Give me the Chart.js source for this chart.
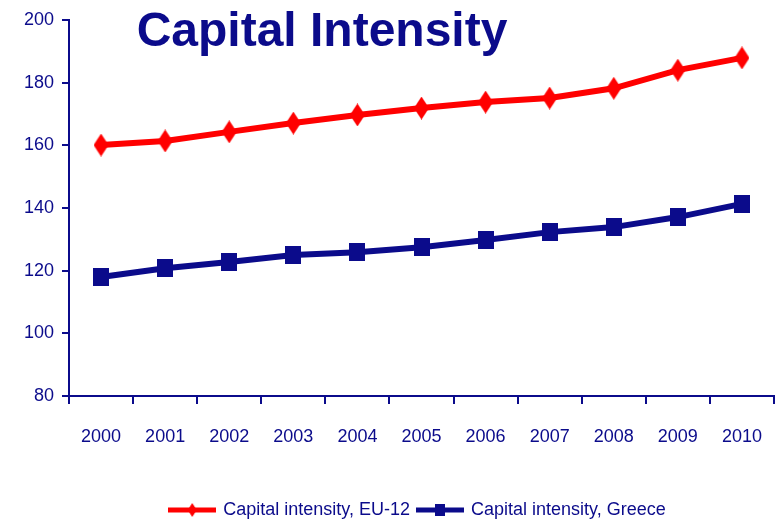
<!DOCTYPE html>
<html>
<head>
<meta charset="utf-8">
<script src="https://cdn.jsdelivr.net/npm/chart.js@4/dist/chart.umd.min.js"></script>
<style>
  html, body { margin: 0; padding: 0; background: #fff; }
  #wrap { width: 776px; height: 524px; position: relative; }
</style>
</head>
<body>
<div id="wrap"><canvas id="capChart" width="776" height="524"></canvas></div>
<script>
(function(){
  const years = ['2000','2001','2002','2003','2004','2005','2006','2007','2008','2009','2010'];
  const eu12 = [160.1, 161.4, 164.3, 167.1, 169.7, 171.9, 173.8, 175.1, 178.2, 184.0, 187.9];
  const greece = [118.0, 120.8, 122.8, 125.0, 125.9, 127.5, 129.8, 132.3, 133.9, 137.1, 141.3];
  const yTicks = [80, 100, 120, 140, 160, 180, 200];

  const NAVY = '#0b0b8b';
  const RED = '#ff0000';
  const FAMILY = '"Liberation Sans Narrow", "Arial Narrow", "Liberation Sans", Arial, sans-serif';
  const tickFont = { family: FAMILY, size: 18 };
  // big line height pushes the year labels down without widening the axis padding
  const xTickFont = { family: FAMILY, size: 18, lineHeight: 3.2 };

  // little canvases used as point styles (markers are taller than wide in the original)
  function diamond(w, h, lineW, lineLen){
    const c = document.createElement('canvas');
    const W = lineLen || w;
    c.width = W; c.height = h;
    const g = c.getContext('2d');
    g.fillStyle = RED;
    if (lineLen) g.fillRect(0, h/2 - lineW/2, W, lineW);
    const cx = W/2;
    g.beginPath();
    g.moveTo(cx, 0); g.lineTo(cx + w/2, h/2); g.lineTo(cx, h); g.lineTo(cx - w/2, h/2);
    g.closePath(); g.fill();
    return c;
  }
  function square(w, h, lineW, lineLen){
    const c = document.createElement('canvas');
    const W = lineLen || w;
    c.width = W; c.height = h;
    const g = c.getContext('2d');
    g.fillStyle = NAVY;
    if (lineLen) g.fillRect(0, h/2 - lineW/2, W, lineW);
    g.fillRect(W/2 - w/2, 0, w, h);
    return c;
  }

  const euMarker = diamond(15, 23);
  const grMarker = square(16, 18);
  const euLegend = diamond(9, 14, 5, 48);
  const grLegend = square(10, 12, 5, 48);

  const titlePlugin = {
    id: 'bigTitle',
    afterLayout(chart){
      // legend sits a bit right of centre in the original
      if (chart.legend) { chart.legend.left += 31; chart.legend.right += 31; }
    },
    afterDraw(chart){
      const ctx = chart.ctx;
      ctx.save();
      ctx.font = 'bold 48px "Liberation Sans", Arial, sans-serif';
      ctx.fillStyle = NAVY;
      ctx.textAlign = 'center';
      ctx.textBaseline = 'alphabetic';
      ctx.fillText('Capital Intensity', 322, 46);
      ctx.restore();
    }
  };

  new Chart(document.getElementById('capChart'), {
    type: 'line',
    data: {
      labels: years,
      datasets: [
        { label: 'Capital intensity, EU-12', data: eu12, borderColor: RED, backgroundColor: RED,
          borderWidth: 6, pointStyle: euMarker, pointRadius: 10, tension: 0 },
        { label: 'Capital intensity, Greece', data: greece, borderColor: NAVY, backgroundColor: NAVY,
          borderWidth: 6, pointStyle: grMarker, pointRadius: 9, tension: 0 }
      ]
    },
    options: {
      responsive: false,
      animation: false,
      layout: { autoPadding: false, padding: { top: 20, right: 2, left: 0, bottom: -5 } },
      plugins: {
        title: { display: false },
        tooltip: { enabled: false },
        legend: {
          display: true,
          position: 'bottom',
          labels: {
            usePointStyle: true,
            pointStyleWidth: 44,
            padding: 8,
            color: NAVY,
            font: tickFont,
            generateLabels(chart){
              return chart.data.datasets.map((ds, i) => ({
                text: ds.label,
                pointStyle: i === 0 ? euLegend : grLegend,
                fillStyle: ds.borderColor,
                strokeStyle: ds.borderColor,
                fontColor: NAVY,
                lineWidth: 0,
                hidden: false,
                datasetIndex: i
              }));
            }
          }
        }
      },
      scales: {
        x: {
          offset: true,
          grid: { display: true, drawOnChartArea: false, drawTicks: true, tickLength: 8, color: NAVY, lineWidth: 2, offset: true },
          border: { color: NAVY, width: 2 },
          ticks: { color: NAVY, font: xTickFont, padding: 4, maxRotation: 0 },
          afterFit(scale){
            scale.height = 97;
            scale.paddingLeft = 0;
            scale.paddingRight = 0;
          }
        },
        y: {
          min: yTicks[0],
          max: yTicks[yTicks.length - 1],
          afterBuildTicks(scale){ scale.ticks = yTicks.map(v => ({ value: v })); },
          grid: { display: true, drawOnChartArea: false, drawTicks: true, tickLength: 7, color: NAVY, lineWidth: 2 },
          border: { color: NAVY, width: 2 },
          ticks: { color: NAVY, font: tickFont, padding: 8 },
          afterFit(scale){ scale.width = 69; }
        }
      }
    },
    plugins: [titlePlugin]
  });
})();
</script>
</body>
</html>
